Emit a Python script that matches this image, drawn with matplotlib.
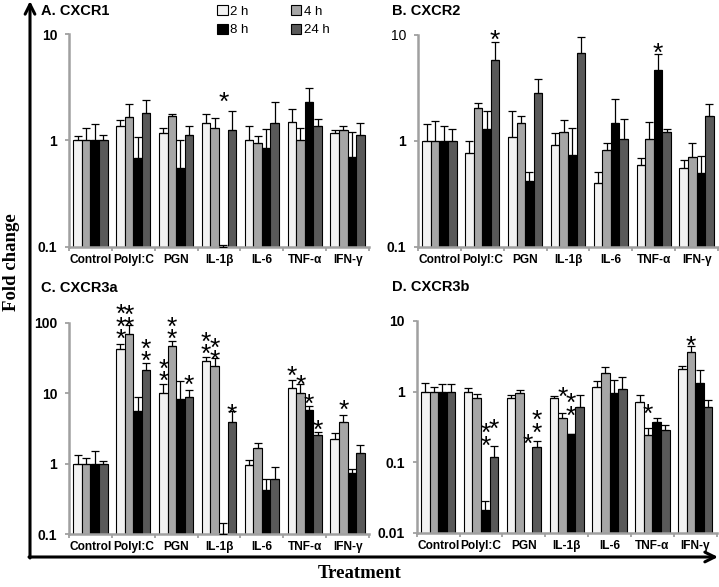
import numpy as np
import matplotlib
matplotlib.use("Agg")
import matplotlib.pyplot as plt
from matplotlib.ticker import NullLocator

groups = ["Control", "PolyI:C", "PGN", "IL-1β", "IL-6", "TNF-α", "IFN-γ"]
times = ["2 h", "4 h", "8 h", "24 h"]
colors = ["#f2f2f2", "#a6a6a6", "#000000", "#595959"]

# rows = 2 h, 4 h, 8 h, 24 h ; columns = treatments
cxcr1_mean = [[1.0, 1.37, 1.17, 1.46, 1.0, 1.50, 1.16],
              [1.0, 1.66, 1.71, 1.32, 0.95, 1.01, 1.24],
              [1.0, 0.68, 0.55, 0.10, 0.85, 2.27, 0.70],
              [1.0, 1.82, 1.13, 1.26, 1.47, 1.36, 1.13]]
cxcr1_top = [[1.11, 1.57, 1.30, 1.78, 1.37, 1.99, 1.24],
             [1.31, 2.22, 1.78, 1.61, 1.09, 1.32, 1.37],
             [1.41, 1.07, 1.00, 0.104, 1.29, 3.10, 1.20],
             [1.13, 2.42, 1.36, 1.89, 2.30, 1.58, 1.47]]

cxcr2_mean = [[1.0, 0.77, 1.09, 0.92, 0.40, 0.59, 0.55],
              [1.0, 2.03, 1.46, 1.22, 0.82, 1.04, 0.70],
              [1.0, 1.28, 0.42, 0.74, 1.47, 4.68, 0.50],
              [1.0, 5.77, 2.84, 6.76, 1.04, 1.22, 1.70]]
cxcr2_top = [[1.44, 1.00, 1.89, 1.17, 0.51, 0.68, 0.66],
             [1.52, 2.25, 1.72, 1.58, 0.96, 1.49, 0.96],
             [1.37, 1.92, 0.51, 1.31, 2.50, 6.57, 0.72],
             [1.29, 8.47, 3.85, 9.56, 1.60, 1.30, 2.22]]

cxcr3a_mean = [[1.0, 42.9, 10.2, 29.0, 0.96, 12.0, 2.28],
               [1.0, 68.4, 46.7, 24.4, 1.65, 10.0, 3.97],
               [1.0, 5.62, 8.3, 0.10, 0.42, 5.7, 0.74],
               [1.0, 21.6, 8.9, 3.89, 0.60, 2.55, 1.40]]
cxcr3a_top = [[1.31, 49.3, 13.3, 32.3, 1.14, 15.4, 2.72],
              [1.22, 92.7, 55.0, 31.3, 2.00, 13.6, 4.88],
              [1.51, 8.7, 15.1, 0.143, 0.61, 6.5, 0.85],
              [1.10, 27.2, 11.0, 5.63, 0.89, 2.78, 1.82]]

cxcr3b_mean = [[1.0, 1.0, 0.80, 0.80, 1.15, 0.71, 2.07],
               [1.0, 0.80, 0.96, 0.42, 1.84, 0.244, 3.6],
               [1.0, 0.021, np.nan, 0.25, 0.95, 0.376, 1.34],
               [1.0, 0.12, 0.163, 0.60, 1.08, 0.287, 0.60]]
cxcr3b_top = [[1.31, 1.14, 0.90, 0.87, 1.43, 0.90, 2.33],
              [1.15, 0.93, 1.06, 0.49, 2.26, 0.30, 4.48],
              [1.30, 0.0277, np.nan, 0.25, 1.46, 0.42, 2.03],
              [1.26, 0.17, 0.20, 0.90, 1.63, 0.34, 0.76]]

# significance marks: (treatment, time, number of stars, level of lowest star)
cxcr1_stars = [(3, 2, 1, 2.7)]
cxcr2_stars = [(1, 3, 1, 10.4), (5, 2, 1, 7.9)]
cxcr3a_stars = [(1, 0, 3, 73.6), (1, 1, 2, 108), (1, 3, 2, 36),
                (2, 0, 2, 18.8), (2, 1, 2, 73.6), (2, 3, 1, 16.5),
                (3, 0, 2, 45), (3, 1, 2, 37), (3, 3, 1, 6.4),
                (5, 0, 1, 22), (5, 1, 1, 16.5), (5, 2, 1, 8.9), (5, 3, 1, 3.8),
                (6, 1, 1, 7.3)]
cxcr3b_stars = [(1, 2, 2, 0.214), (1, 3, 1, 0.37), (2, 2, 1, 0.228), (2, 3, 2, 0.327),
                (3, 1, 1, 1.06), (3, 2, 2, 0.57), (5, 1, 1, 0.61), (6, 1, 1, 5.6)]

W, H = 719.0, 587.0
gray = "#a0a0a0"
sans = ["Liberation Sans", "DejaVu Sans"]

fig = plt.figure(figsize=(7.19, 5.87), dpi=100)


def px_axes(left, top, right, bottom):
    return fig.add_axes([left / W, 1 - bottom / H, (right - left) / W, (bottom - top) / H])


def draw_panel(ax, means, tops, stars, ylim, yticks, ylabels):
    ax.set_yscale("log")
    x = np.arange(len(groups)) + 0.5
    w = 0.2
    for k in range(4):
        m = np.array(means[k], float)
        hi = np.array(tops[k], float) - m
        xs = x + (k - 1.5) * w
        ax.bar(xs, m, w, color=colors[k], edgecolor="black", linewidth=0.8,
               label=times[k], zorder=2)
        ax.errorbar(xs, m, yerr=[np.zeros_like(hi), hi], fmt="none", ecolor="black",
                    elinewidth=0.9, capsize=3, capthick=0.9, zorder=3)
    for g, s, n, lev in stars:
        xs = g + 0.5 + (s - 1.5) * w
        for j in range(n):
            ax.annotate("*", (xs, lev), xytext=(0, j * 9 - 10.8), textcoords="offset points",
                        ha="center", va="baseline", fontsize=19, family=sans,
                        annotation_clip=False)
    ax.set_ylim(ylim)
    ax.set_xlim(0, 7)
    ax.set_yticks(yticks, ylabels)
    ax.yaxis.set_minor_locator(NullLocator())
    for t in ax.get_yticklabels():
        t.set_family(sans)
        t.set_weight("bold")
        t.set_fontsize(10)
    ax.set_xticks(range(8), [""] * 8)
    ax.set_xticks(x, groups, minor=True)
    for t in ax.get_xticklabels(minor=True):
        t.set_family(sans)
        t.set_weight("bold")
        t.set_fontsize(8.6)
    ax.tick_params(which="major", direction="out", color=gray, width=1.3, length=3)
    ax.tick_params(axis="y", pad=5.5)
    ax.tick_params(axis="x", which="minor", length=0, pad=5)
    for side in ["top", "right"]:
        ax.spines[side].set_visible(False)
    for side in ["left", "bottom"]:
        ax.spines[side].set_color(gray)
        ax.spines[side].set_linewidth(1.8)
    ax.set_facecolor("none")
    return ax.get_yticklabels()


axA = px_axes(69, 34, 369, 246.7)
axB = px_axes(418, 34.7, 718, 246.7)
axC = px_axes(69, 322.7, 369, 534.3)
axD = px_axes(416.7, 321, 716.7, 532.7)

draw_panel(axA, cxcr1_mean, cxcr1_top, cxcr1_stars, (0.1, 10), [0.1, 1, 10], ["0.1", "1", "10"])
lb = draw_panel(axB, cxcr2_mean, cxcr2_top, cxcr2_stars, (0.1, 10), [0.1, 1, 10], ["0.1", "1", "10"])
lb[2].set_weight("normal")
draw_panel(axC, cxcr3a_mean, cxcr3a_top, cxcr3a_stars, (0.1, 100), [0.1, 1, 10, 100],
           ["0.1", "1", "10", "100"])
draw_panel(axD, cxcr3b_mean, cxcr3b_top, cxcr3b_stars, (0.01, 10), [0.01, 0.1, 1, 10],
           ["0.01", "0.1", "1", "10"])

# overlay in pixel coordinates for titles, arrows and axis names
ov = fig.add_axes([0, 0, 1, 1], zorder=-1)
ov.set_xlim(0, W)
ov.set_ylim(H, 0)
ov.axis("off")

for txt, xp, yp in [("A. CXCR1", 41, 11), ("B. CXCR2", 392, 11),
                    ("C. CXCR3a", 41, 288), ("D. CXCR3b", 392, 287)]:
    ov.text(xp, yp, txt, ha="left", va="center", fontsize=10.5, fontweight="bold", family=sans)

ov.annotate("", xy=(30, 1), xytext=(30, 558),
            arrowprops=dict(arrowstyle="->,head_length=0.7,head_width=0.35", lw=2.2, color="black",
                            shrinkA=0, shrinkB=0))
ov.annotate("", xy=(718, 557), xytext=(29, 557),
            arrowprops=dict(arrowstyle="->,head_length=0.7,head_width=0.35", lw=2.2, color="black",
                            shrinkA=0, shrinkB=0))
ov.text(12, 262, "Fold change", rotation=90, ha="center", va="center", fontsize=13.5,
        fontweight="bold", family=["Liberation Serif", "DejaVu Serif"])
ov.text(360, 574, "Treatment", ha="center", va="center", fontsize=13.5,
        fontweight="bold", family=["Liberation Serif", "DejaVu Serif"])

h, l = axA.get_legend_handles_labels()
order = [0, 2, 1, 3]
fig.legend([h[i] for i in order], [l[i] for i in order], ncol=2, frameon=False,
           loc="upper left", bbox_to_anchor=(217 / W, 1 - 5 / H),
           handlelength=0.8, handleheight=0.8, handletextpad=0.2, columnspacing=3.2,
           labelspacing=0.45, borderpad=0, borderaxespad=0,
           prop={"family": sans, "size": 9.5})

fig.savefig("out.png", dpi=100)
